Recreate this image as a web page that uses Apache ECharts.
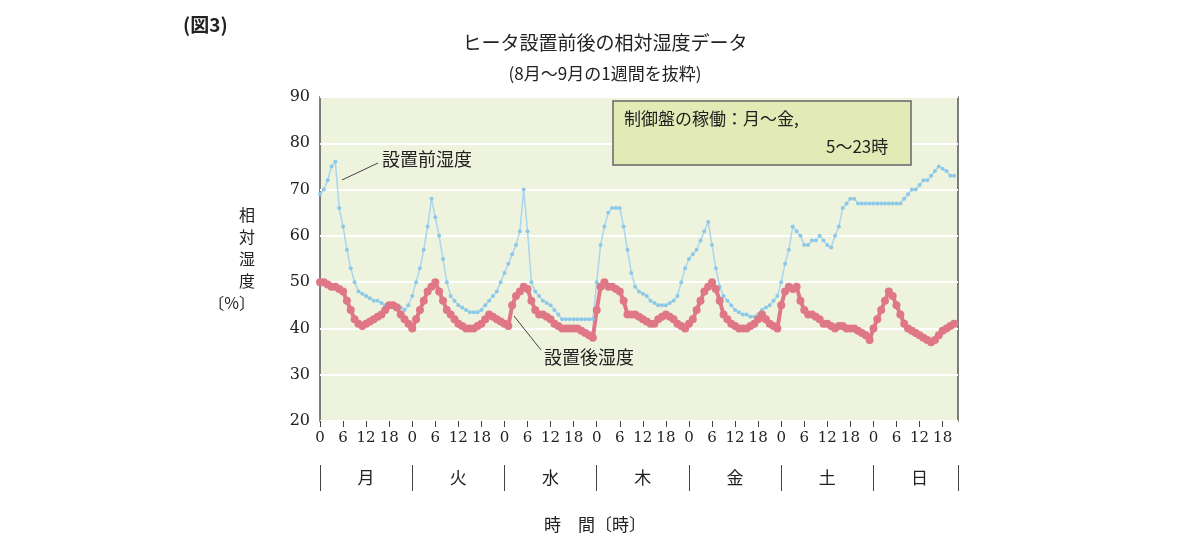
<!DOCTYPE html><html><head><meta charset="utf-8">
<script src="https://cdn.jsdelivr.net/npm/echarts@6/dist/echarts.min.js"></script>
<style>body{margin:0;background:#fff}#c{width:1184px;height:548px}</style></head><body><div id="c"></div>
<script>
const days=['月','火','水','木','金','土','日'];
const hourTicks=[0,6,12,18];
const before=[
69,70,72,75,76,66,62,57,53,50,48,47.5,47,46.5,46,46,45.5,45,45,45,45,44.5,44,45,
47,50,53,57,62,68,64,60,55,50,47,46,45,44.5,44,43.5,43.5,43.5,44,45,46,47,48,50,
52,54,56,58,61,70,61,50,48,47,46,45.5,45,44,43,42,42,42,42,42,42,42,42,42,
50,58,62,65,66,66,66,62,57,52,49,48,47.5,47,46,45.5,45,45,45,45.5,46,47,50,53,
55,56,57,59,61,63,58,53,49,47,46,45,44,43.5,43,43,42.5,42.5,43,44,44.5,45,46,47,
50,54,57,62,61,60,58,58,59,59,60,59,58,57.5,60,62,66,67,68,68,67,67,67,67,
67,67,67,67,67,67,67,67,68,69,70,70,71,72,72,73,74,75,74.5,74,73,73];
const after=[
50,50,49.5,49,49,48.5,48,46,44,42,41,40.5,41,41.5,42,42.5,43,44,45,45,44.5,43,42,41,
40,42,44,46,48,49,50,48,46,44,43,42,41,40.5,40,40,40,40.5,41,42,43,42.5,42,41.5,
41,40.5,45,47,48,49,48.5,46,44,43,43,42.5,42,41,40.5,40,40,40,40,40,39.5,39,38.5,38,
44,49,50,49,49,48.5,48,46,43,43,43,42.5,42,41.5,41,41,42,42.5,43,42.5,42,41,40.5,40,
41,42,44,46,48,49,50,48.5,46,43,42,41,40.5,40,40,40,40.5,41,42,43,42,41,40.5,40,
45,48,49,48.5,49,46,44,43,43,42.5,42,41,41,40.5,40,40.5,40.5,40,40,40,39.5,39,38.5,37.5,
40,42,44,46,48,47,45,43,41,40,39.5,39,38.5,38,37.5,37,37.5,38.5,39.5,40,40.5,41];
const toPts=a=>a.map((v,i)=>[i,v]);
const dayTicks=[0,24,48,72,96,120,144,166];
const dayMids=days.map((d,i)=>i*24+12);
const serif='"DejaVu Serif","Liberation Serif",serif';
const jp='"Noto Sans CJK JP",sans-serif';
const c=echarts.init(document.getElementById('c'));
c.setOption({
 animation:false,
 grid:{left:320,top:97,width:638,height:324,show:true,backgroundColor:'#eef3dd',borderColor:'#555',borderWidth:1.5},
 xAxis:[
  {type:'value',min:0,max:166,interval:6,position:'bottom',
   axisLine:{show:false},axisTick:{show:true,length:6,lineStyle:{color:'#444'}},splitLine:{show:false},
   axisLabel:{margin:10,fontFamily:serif,fontSize:15,color:'#222',showMaxLabel:false,formatter:v=>String(v%24)}},
  {type:'value',min:0,max:166,position:'bottom',offset:44,
   axisLine:{show:false},
   axisTick:{show:true,inside:false,length:26,customValues:dayTicks,lineStyle:{color:'#444'}},
   splitLine:{show:false},
   axisLabel:{show:true,customValues:dayMids,margin:4,fontFamily:jp,fontSize:17,color:'#222',formatter:v=>days[Math.round((v-12)/24)]}}
 ],
 yAxis:{type:'value',min:20,max:90,interval:10,axisLine:{show:false},axisTick:{show:false},
  splitLine:{lineStyle:{color:'#fff',width:2}},
  axisLabel:{fontFamily:serif,fontSize:16,color:'#222',margin:10},
  name:'相\n対\n湿\n度\n〔%〕',nameLocation:'middle',nameRotate:0,nameGap:65,
  nameTextStyle:{fontFamily:jp,fontSize:16,color:'#222',lineHeight:22}},
 title:[
  {text:'ヒータ設置前後の相対湿度データ',left:600,top:28,textAlign:'center',textStyle:{fontFamily:jp,fontSize:19,fontWeight:'normal',color:'#222'}},
  {text:'(8月～9月の1週間を抜粋)',left:600,top:60,textAlign:'center',textStyle:{fontFamily:jp,fontSize:17,fontWeight:'normal',color:'#222'}},
  {text:'(図3)',left:178,top:10,textStyle:{fontFamily:jp,fontSize:19,fontWeight:'bold',color:'#222'}},
  {text:'時　間〔時〕',left:590,top:511,textAlign:'center',textStyle:{fontFamily:jp,fontSize:17,fontWeight:'normal',color:'#222'}}
 ],
 graphic:[
  {type:'rect',shape:{x:613,y:101,width:298,height:64},style:{fill:'#e2ebb5',stroke:'#666',lineWidth:1.5},z:10},
  {type:'text',x:624,y:110,style:{text:'制御盤の稼働：月～金,',font:'17px "Noto Sans CJK JP"',fill:'#222'},z:11},
  {type:'text',x:826,y:138,style:{text:'5～23時',font:'17px "Noto Sans CJK JP"',fill:'#222'},z:11},
  {type:'text',x:382,y:150,style:{text:'設置前湿度',font:'18px "Noto Sans CJK JP"',fill:'#222'},z:11},
  {type:'line',shape:{x1:378,y1:163,x2:342,y2:180},style:{stroke:'#444',lineWidth:1},z:11},
  {type:'text',x:544,y:348,style:{text:'設置後湿度',font:'18px "Noto Sans CJK JP"',fill:'#222'},z:11},
  {type:'line',shape:{x1:541,y1:350,x2:514,y2:316},style:{stroke:'#444',lineWidth:1},z:11}
 ],
 series:[
  {type:'line',data:toPts(before),symbol:'circle',symbolSize:4,lineStyle:{color:'#a9d6ee',width:1.5},itemStyle:{color:'#8cc8e8'}},
  {type:'line',data:toPts(after),symbol:'circle',symbolSize:8,lineStyle:{color:'#e07786',width:4},itemStyle:{color:'#e07786'}}
 ]
});
</script></body></html>
